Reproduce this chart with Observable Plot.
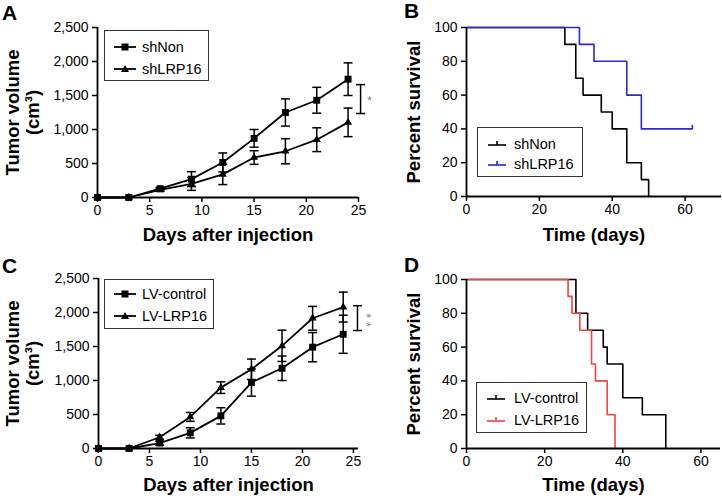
<!DOCTYPE html>
<html><head><meta charset="utf-8">
<script src="https://cdn.jsdelivr.net/npm/d3@7"></script>
<script src="https://cdn.jsdelivr.net/npm/@observablehq/plot@0.6"></script>
<style>
body{margin:0;background:#fff;}
#fig{position:relative;width:722px;height:500px;font-family:"Liberation Sans",Arial,sans-serif;color:#000;overflow:hidden;}
.panel{position:absolute;}
.letter{position:absolute;font-weight:bold;font-size:21px;line-height:21px;}
.legend{position:absolute;border:1px solid #333;box-sizing:border-box;background:#fff;font-size:14.5px;}
.row{position:absolute;left:0;width:100%;height:0;}
.row svg{position:absolute;overflow:visible;}
.row span{position:absolute;line-height:16px;top:-8px;white-space:nowrap;}
</style></head><body><div id="fig"></div>
<script>
// ---------- data ----------
const days = [0, 3, 6, 9, 12, 15, 18, 21, 24];
const shNonMean = [0, 0, 130, 270, 515, 870, 1250, 1430, 1740];
const shNonErr = [0, 0, 20, 110, 140, 130, 200, 190, 240];
const shLRP16Mean = [0, 0, 113, 200, 340, 588, 680, 850, 1105];
const shLRP16Err = [0, 0, 20, 95, 150, 100, 185, 175, 210];
const lvControlMean = [0, 0, 80, 230, 480, 970, 1180, 1490, 1680];
const lvControlErr = [0, 0, 30, 75, 120, 200, 180, 215, 280];
const lvLRP16Mean = [0, 0, 165, 465, 895, 1165, 1510, 1915, 2080];
const lvLRP16Err = [0, 0, 30, 65, 85, 150, 230, 175, 220];
const volumeTicks = [0, 500, 1000, 1500, 2000, 2500];
const dayTicks = [0, 5, 10, 15, 20, 25];
const survTicks = [0, 20, 40, 60, 80, 100];
const timeTicks = [0, 20, 40, 60];
const shNonTime = [0, 27, 30, 32, 37, 40, 44, 48, 50];
const shNonSurv = [100, 90, 70, 60, 50, 40, 20, 10, 0];
const shLRP16Time = [0, 31, 35, 44, 48, 62];
const shLRP16Surv = [100, 90, 80, 60, 40, 40];
const lvControlTime = [0, 28, 31, 35, 36, 40, 45, 51];
const lvControlSurv = [100, 80, 70, 60, 50, 30, 20, 0];
const lvLRP16Time = [0, 26, 27, 29, 32, 33, 36, 38];
const lvLRP16Surv = [100, 90, 80, 70, 50, 40, 20, 0];
const sigA = [{x: 25.2, y1: 1235, y2: 1660, label: "*", rotate: 0}];
const sigC = [{x: 25.4, y1: 1735, y2: 2100, label: "* *", rotate: 90}];

const BLUE = "#2a2ac8", RED = "#ec4545";
const FONT = "'Liberation Sans', Arial, sans-serif";

// ---------- helpers ----------
const capSymbol = {draw(ctx) { ctx.moveTo(-4.5, 0); ctx.lineTo(4.5, 0); }};
const censorSymbol = {draw(ctx) { ctx.moveTo(0, 0); ctx.lineTo(0, -4); }};

function growthRows(series, means, errs) {
  return days.map((d, i) => ({series, day: d, mean: means[i], lo: means[i] - errs[i], hi: means[i] + errs[i], err: errs[i]}));
}
function survRows(series, t, s) {
  return t.map((time, i) => ({series, time, surv: s[i]}));
}
const baseStyle = {fontFamily: FONT, fontSize: "14px", overflow: "visible", background: "none", color: "black"};

function growthPanel(rowsSq, rowsTri, sig, xMax, m) {
  const errMarks = rows => {
    const r = rows.filter(d => d.err > 0);
    return [
      Plot.ruleX(r, {x: "day", y1: "lo", y2: "hi", stroke: "black", strokeWidth: 1.5}),
      Plot.dot(r, {x: "day", y: "hi", symbol: capSymbol, stroke: "black", strokeWidth: 1.5, fill: "none"}),
      Plot.dot(r, {x: "day", y: "lo", symbol: capSymbol, stroke: "black", strokeWidth: 1.5, fill: "none"})
    ];
  };
  return Plot.plot({
    width: 361, height: 250,
    marginLeft: m.left, marginRight: m.right, marginTop: m.top, marginBottom: m.bottom,
    x: {domain: [0, xMax]},
    y: {domain: [0, 2500]},
    style: baseStyle,
    marks: [
      ...errMarks(rowsSq), ...errMarks(rowsTri),
      Plot.line(rowsSq, {x: "day", y: "mean", stroke: "black", strokeWidth: 1.8}),
      Plot.line(rowsTri, {x: "day", y: "mean", stroke: "black", strokeWidth: 1.8}),
      Plot.dot(rowsSq, {x: "day", y: "mean", symbol: "square", fill: "black", r: 3.9}),
      Plot.dot(rowsTri, {x: "day", y: "mean", symbol: "triangle", fill: "black", r: 3.0}),
      Plot.ruleX(sig, {x: "x", y1: "y1", y2: "y2", stroke: "black", strokeWidth: 1.5}),
      Plot.dot(sig, {x: "x", y: "y1", symbol: capSymbol, stroke: "black", strokeWidth: 1.5}),
      Plot.dot(sig, {x: "x", y: "y2", symbol: capSymbol, stroke: "black", strokeWidth: 1.5}),
      Plot.text(sig, {x: "x", y: d => (d.y1 + d.y2) / 2, text: "label", rotate: sig[0].rotate, dx: 9, dy: 2, fill: "#888", fontSize: 13, textAnchor: "middle"}),
      Plot.ruleX([0], {y1: 0, y2: 2500, stroke: "black", strokeWidth: 1.8}),
      Plot.ruleY([0], {x1: 0, x2: xMax, stroke: "black", strokeWidth: 1.8}),
      Plot.axisX({ticks: dayTicks, tickSize: 5, tickPadding: 3, fontSize: 14, label: null, strokeWidth: 1.5}),
      Plot.axisY({ticks: volumeTicks, tickFormat: d3.format(","), tickSize: 5, tickPadding: 4, fontSize: 14, label: null, strokeWidth: 1.5}),
      Plot.text(["Days after injection"], {frameAnchor: "bottom", dy: m.xTitle, fontWeight: "bold", fontSize: 18.5}),
      Plot.text(["Tumor volume\n(cm³)"], {frameAnchor: "left", dx: 22 - m.left, rotate: -90, textAnchor: "middle", lineAnchor: "middle", fontWeight: "bold", fontSize: 18.5, lineHeight: 1.08})
    ]
  });
}

function survivalPanel(lines, censors, xMax, m) {
  return Plot.plot({
    width: 361, height: 250,
    marginLeft: m.left, marginRight: m.right, marginTop: m.top, marginBottom: m.bottom,
    x: {domain: [0, xMax]},
    y: {domain: [0, 100]},
    style: baseStyle,
    marks: [
      ...lines.map(l => Plot.line(l.rows, {x: "time", y: "surv", curve: "step-after", stroke: l.color, strokeWidth: 1.6})),
      ...censors.map(c => Plot.dot(c.rows, {x: "time", y: "surv", symbol: censorSymbol, stroke: c.color, strokeWidth: 1.6})),
      Plot.ruleX([0], {y1: 0, y2: 100, stroke: "black", strokeWidth: 1.8}),
      Plot.ruleY([0], {x1: 0, x2: xMax, stroke: "black", strokeWidth: 1.8}),
      Plot.axisX({ticks: timeTicks, tickSize: 5, tickPadding: 3, fontSize: 14, label: null, strokeWidth: 1.5}),
      Plot.axisY({ticks: survTicks, tickSize: 5, tickPadding: 4, fontSize: 14, label: null, strokeWidth: 1.5}),
      Plot.text(["Time (days)"], {frameAnchor: "bottom", dy: m.xTitle, fontWeight: "bold", fontSize: 18.5}),
      Plot.text(["Percent survival"], {frameAnchor: "left", dx: 53 - m.left, rotate: -90, textAnchor: "middle", lineAnchor: "middle", fontWeight: "bold", fontSize: 18.5})
    ]
  });
}

const fig = document.getElementById("fig");
function place(node, left, top) {
  const d = document.createElement("div");
  d.className = "panel"; d.style.left = left + "px"; d.style.top = top + "px";
  d.appendChild(node); fig.appendChild(d);
}
function letter(ch, left, top) {
  const d = document.createElement("div");
  d.className = "letter"; d.textContent = ch;
  d.style.left = left + "px"; d.style.top = top + "px";
  fig.appendChild(d);
}
const NS = "http://www.w3.org/2000/svg";
function legend(box, rows, kind) {
  const L = document.createElement("div");
  L.className = "legend";
  Object.assign(L.style, {left: box.left + "px", top: box.top + "px", width: box.width + "px", height: box.height + "px"});
  rows.forEach(r => {
    const row = document.createElement("div");
    row.className = "row"; row.style.top = r.y + "px";
    const s = document.createElementNS(NS, "svg");
    s.setAttribute("width", 24); s.setAttribute("height", 12);
    s.style.left = box.symX + "px"; s.style.top = "-6px";
    let inner;
    if (kind === "growth") {
      inner = `<line x1="0" x2="22" y1="6" y2="6" stroke="black" stroke-width="1.8"/>` +
        (r.symbol === "square"
          ? `<rect x="7.5" y="2.5" width="7" height="7" fill="black"/>`
          : `<path d="M11,2 L15,9 L7,9 Z" fill="black"/>`);
    } else {
      inner = `<line x1="0" x2="18" y1="7" y2="7" stroke="${r.color}" stroke-width="1.6"/>` +
        `<line x1="9" x2="9" y1="7" y2="3" stroke="${r.color}" stroke-width="1.6"/>`;
    }
    s.innerHTML = inner;
    const sp = document.createElement("span");
    sp.textContent = r.label; sp.style.left = box.textX + "px";
    row.appendChild(s); row.appendChild(sp); L.appendChild(row);
  });
  fig.appendChild(L);
}

// ---------- panels ----------
place(growthPanel(growthRows("shNon", shNonMean, shNonErr), growthRows("shLRP16", shLRP16Mean, shLRP16Err), sigA, 25,
  {left: 97, right: 3, top: 27, bottom: 53, xTitle: 43}), 0, 0);
place(growthPanel(growthRows("LV-control", lvControlMean, lvControlErr), growthRows("LV-LRP16", lvLRP16Mean, lvLRP16Err), sigC, 25.5,
  {left: 98, right: 3, top: 28, bottom: 52, xTitle: 42}), 0, 250);

const bBlack = survRows("shNon", shNonTime, shNonSurv);
const bBlue = survRows("shLRP16", shLRP16Time, shLRP16Surv);
place(survivalPanel([{rows: bBlack, color: "black"}, {rows: bBlue, color: BLUE}], [{rows: bBlue.slice(-1), color: BLUE}], 70,
  {left: 105, right: 1, top: 27, bottom: 54, xTitle: 44}), 361, 0);
const dBlack = survRows("LV-control", lvControlTime, lvControlSurv);
const dRed = survRows("LV-LRP16", lvLRP16Time, lvLRP16Surv);
place(survivalPanel([{rows: dBlack, color: "black"}, {rows: dRed, color: RED}], [], 65,
  {left: 105, right: 2, top: 29, bottom: 52, xTitle: 42}), 361, 250);

letter("A", 2, 2); letter("B", 404, 0); letter("C", 2, 255); letter("D", 404, 254);

legend({left: 104, top: 30, width: 105, height: 51, symX: 9, textX: 37},
  [{label: "shNon", y: 16, symbol: "square"}, {label: "shLRP16", y: 38, symbol: "triangle"}], "growth");
legend({left: 104, top: 279, width: 110, height: 50, symX: 9, textX: 37},
  [{label: "LV-control", y: 14, symbol: "square"}, {label: "LV-LRP16", y: 36, symbol: "triangle"}], "growth");
legend({left: 477, top: 127, width: 106, height: 50, symX: 10, textX: 36},
  [{label: "shNon", y: 16, color: "black"}, {label: "shLRP16", y: 36, color: BLUE}], "surv");
legend({left: 476, top: 382, width: 111, height: 51, symX: 10, textX: 37},
  [{label: "LV-control", y: 15, color: "black"}, {label: "LV-LRP16", y: 37, color: RED}], "surv");
</script></body></html>
